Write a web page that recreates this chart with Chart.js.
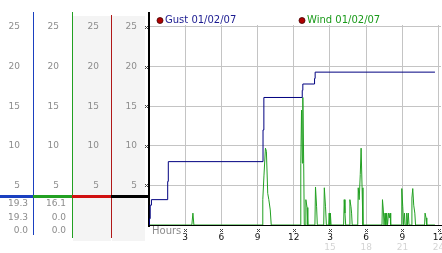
<!DOCTYPE html>
<html lang="en">
<head>
<meta charset="UTF-8">
<title>Gust / Wind 01/02/07</title>
<script src="https://cdn.jsdelivr.net/npm/chart.js"></script>
<style>
    * { margin: 0; padding: 0; box-sizing: border-box; }
    body { background: #fff; width: 442px; height: 253px; overflow: hidden; }
    canvas { display: block; }
</style>
</head>
<body>
<canvas id="chart" width="442" height="253"></canvas>
<script>
// axis ticks
const yTicks = [5, 10, 15, 20, 25];
const xTicks = [3, 6, 9, 12, 15, 18, 21, 24];
const xLabels = ['3', '6', '9', '12', '3', '6', '9', '12'];
const xTicks24 = [15, 18, 21, 24];
const xLabels24 = ['15', '18', '21', '24'];

// gust (step line), hours since midnight
const gustLabel = 'Gust 01/02/07';
const gustHours  = [0, 0.04, 0.1, 0.2, 1.55, 1.6, 9.45, 9.52, 12.7, 12.75, 13.72, 13.77, 23.7];
const gustSpeeds = [0, 0.8, 2.5, 3.2, 5.5, 8.0, 12.0, 16.1, 17.0, 17.8, 18.5, 19.3, 19.3];

// wind
const windLabel = 'Wind 01/02/07';
const windHours = [
    0, 3.55, 3.64, 3.72,
    9.37, 9.43, 9.53, 9.65, 9.73, 9.84, 9.93, 10.05, 10.13,
    12.52, 12.58, 12.64, 12.71, 12.75, 12.82, 12.87, 12.95, 13.0, 13.1, 13.16,
    13.75, 13.8, 13.89, 13.95,
    14.48, 14.53, 14.63, 14.7,
    14.89, 14.93, 14.99, 15.03, 15.09,
    16.13, 16.18, 16.24, 16.3,
    16.61, 16.65, 16.74, 16.79, 16.84,
    17.3, 17.34, 17.42, 17.51, 17.58, 17.66, 17.73,
    19.31, 19.35, 19.42, 19.48, 19.56, 19.63, 19.7, 19.77, 19.85, 19.92, 19.98, 20.03,
    20.9, 20.95, 21.03, 21.1, 21.12, 21.17, 21.23, 21.32, 21.36, 21.42, 21.49, 21.55,
    21.75, 21.79, 21.86, 21.94, 22.03, 22.09,
    22.84, 22.88, 22.96, 23.02,
    23.7
];
const windSpeeds = [
    0, 0, 1.5, 0,
    0, 3.2, 6.3, 9.7, 9.3, 4.0, 3.2, 1.9, 0,
    0, 7.8, 14.5, 7.8, 16.1, 7.8, 0, 0, 3.2, 2.2, 0,
    0, 4.8, 2.3, 0,
    0, 4.7, 2.3, 0,
    0, 1.5, 0, 1.5, 0,
    0, 3.2, 1.5, 0,
    0, 3.2, 2.3, 1.5, 0,
    0, 4.7, 3.2, 6.4, 9.7, 4.7, 0,
    0, 3.2, 1.9, 0, 1.5, 0, 1.5, 0, 1.5, 0.9, 1.5, 0,
    0, 4.6, 2.3, 0, 0, 1.5, 0, 0, 1.5, 0, 1.5, 0,
    0, 3.4, 4.6, 2.5, 1.5, 0,
    0, 1.5, 0.9, 0,
    0
];

// readouts under the left columns
const gustReadout = ['19.3', '19.3', '0.0'];
const windReadout = ['16.1', '0.0', '0.0'];

const grayFont = { family: 'DejaVu Sans', size: 9 };

function toPoints(xs, ys) {
    return xs.map((x, i) => ({ x: x, y: ys[i] }));
}

function tickMark(ctx, x, y) {
    ctx.fillStyle = '#444';
    [[0, 0], [2, 0], [1, 1], [0, 2], [2, 2]].forEach(p => ctx.fillRect(x + p[0], y + p[1], 1, 1));
}

function sideAxis(weight, width, pad) {
    return {
        type: 'linear', axis: 'y', position: 'left', weight: weight,
        min: 0, max: 25.25,
        afterBuildTicks: s => { s.ticks = yTicks.map(v => ({ value: v })); },
        afterFit: s => { s.width = width; s.paddingTop = 0; s.paddingBottom = 0; },
        grid: { display: false, drawTicks: false },
        border: { display: false },
        ticks: { padding: pad, color: '#8c8c8c', font: grayFont }
    };
}

// left panel: columns, coloured rules, readouts, legend
const panelPlugin = {
    id: 'panel',
    beforeDraw(chart) {
        const ctx = chart.ctx;
        ctx.save();
        ctx.fillStyle = '#f4f4f4';
        ctx.fillRect(73, 16, 38, 225);
        ctx.fillRect(112, 16, 33, 225);
        ctx.restore();
    },
    afterDraw(chart) {
        const ctx = chart.ctx;
        const y = chart.scales.y;
        const x = chart.scales.x;
        ctx.save();

        ctx.fillStyle = '#1a40c0';
        ctx.fillRect(33, 12, 1, 223);
        ctx.fillStyle = '#22a022';
        ctx.fillRect(72, 12, 1, 226);
        ctx.fillStyle = '#b01818';
        ctx.fillRect(111, 15, 1, 223);
        ctx.fillStyle = '#000';
        ctx.fillRect(148, 12, 2, 14);
        ctx.fillRect(148, 225, 2, 2);

        // coloured bar across the columns
        ctx.fillStyle = '#1a40c0'; ctx.fillRect(0, 195, 33, 3);
        ctx.fillStyle = '#22a022'; ctx.fillRect(33, 195, 39, 3);
        ctx.fillStyle = '#d01010'; ctx.fillRect(72, 195, 39, 3);
        ctx.fillStyle = '#000';    ctx.fillRect(111, 195, 38, 3);

        // readouts
        ctx.font = '9px "DejaVu Sans"';
        ctx.fillStyle = '#8c8c8c';
        ctx.textAlign = 'right';
        ctx.textBaseline = 'middle';
        const rows = [204, 218, 231];
        gustReadout.forEach((t, i) => ctx.fillText(t, 28, rows[i]));
        windReadout.forEach((t, i) => ctx.fillText(t, 66, rows[i]));

        // tick marks
        yTicks.forEach(v => tickMark(ctx, 145, Math.round(y.getPixelForValue(v)) - 1));
        xTicks.forEach(v => tickMark(ctx, Math.round(x.getPixelForValue(v)) - 1, 229));

        ctx.textAlign = 'left';
        ctx.fillStyle = '#8c8c8c';
        ctx.font = '10px "DejaVu Sans"';
        ctx.fillText('Hours', 152, 231);

        // legend
        const items = [
            { text: chart.data.datasets[0].label, color: '#1a1a90', x: 160 },
            { text: chart.data.datasets[1].label, color: '#1a9a1a', x: 302 }
        ];
        items.forEach(it => {
            ctx.beginPath();
            ctx.arc(it.x, 20.5, 3, 0, Math.PI * 2);
            ctx.fillStyle = '#b00000';
            ctx.fill();
            ctx.strokeStyle = '#400000';
            ctx.lineWidth = 0.8;
            ctx.stroke();
            ctx.fillStyle = it.color;
            ctx.fillText(it.text, it.x + 5, 20.5);
        });
        ctx.restore();
    }
};

new Chart(document.getElementById('chart'), {
    type: 'line',
    data: {
        datasets: [
            {
                label: gustLabel,
                data: toPoints(gustHours, gustSpeeds),
                borderColor: '#000080',
                borderWidth: 1,
                stepped: true,
                pointRadius: 0,
                xAxisID: 'x', yAxisID: 'y'
            },
            {
                label: windLabel,
                data: toPoints(windHours, windSpeeds),
                borderColor: '#22a022',
                borderWidth: 1,
                tension: 0,
                pointRadius: 0,
                xAxisID: 'x', yAxisID: 'y'
            }
        ]
    },
    options: {
        responsive: false,
        devicePixelRatio: 1,
        animation: false,
        layout: { padding: { top: 25, left: 0, right: 1, bottom: 0 } },
        plugins: { legend: { display: false }, tooltip: { enabled: false } },
        scales: {
            x: {
                type: 'linear', position: 'bottom', weight: 0,
                min: 0, max: 24.2,
                afterBuildTicks: s => { s.ticks = xTicks.map(v => ({ value: v })); },
                afterFit: s => { s.height = 15; s.paddingLeft = 0; s.paddingRight = 0; },
                grid: { color: '#c4c4c4', drawTicks: false },
                border: { color: '#000', width: 1 },
                ticks: {
                    padding: 7, color: '#111', font: grayFont,
                    maxRotation: 0, autoSkip: false,
                    callback: (v, i) => xLabels[i]
                }
            },
            x2: {
                type: 'linear', axis: 'x', position: 'bottom', weight: 1,
                min: 0, max: 24.2,
                afterBuildTicks: s => { s.ticks = xTicks24.map(v => ({ value: v })); },
                afterFit: s => { s.height = 13; s.paddingLeft = 0; s.paddingRight = 0; },
                grid: { display: false, drawTicks: false },
                border: { display: false },
                ticks: {
                    padding: 2, color: '#d4d4d4', font: grayFont,
                    maxRotation: 0, autoSkip: false,
                    callback: (v, i) => xLabels24[i]
                }
            },
            y: {
                type: 'linear', position: 'left', weight: 0,
                min: 0, max: 25.25,
                afterBuildTicks: s => { s.ticks = yTicks.map(v => ({ value: v })); },
                afterFit: s => { s.width = 38; s.paddingTop = 0; s.paddingBottom = 0; },
                grid: { color: '#c4c4c4', drawTicks: false },
                border: { color: '#000', width: 2 },
                ticks: { padding: 12, color: '#8c8c8c', font: grayFont }
            },
            yCol3: sideAxis(1, 39, 12),
            yCol2: sideAxis(2, 39, 13),
            yCol1: sideAxis(3, 33, 13)
        }
    },
    plugins: [panelPlugin]
});
</script>
</body>
</html>
